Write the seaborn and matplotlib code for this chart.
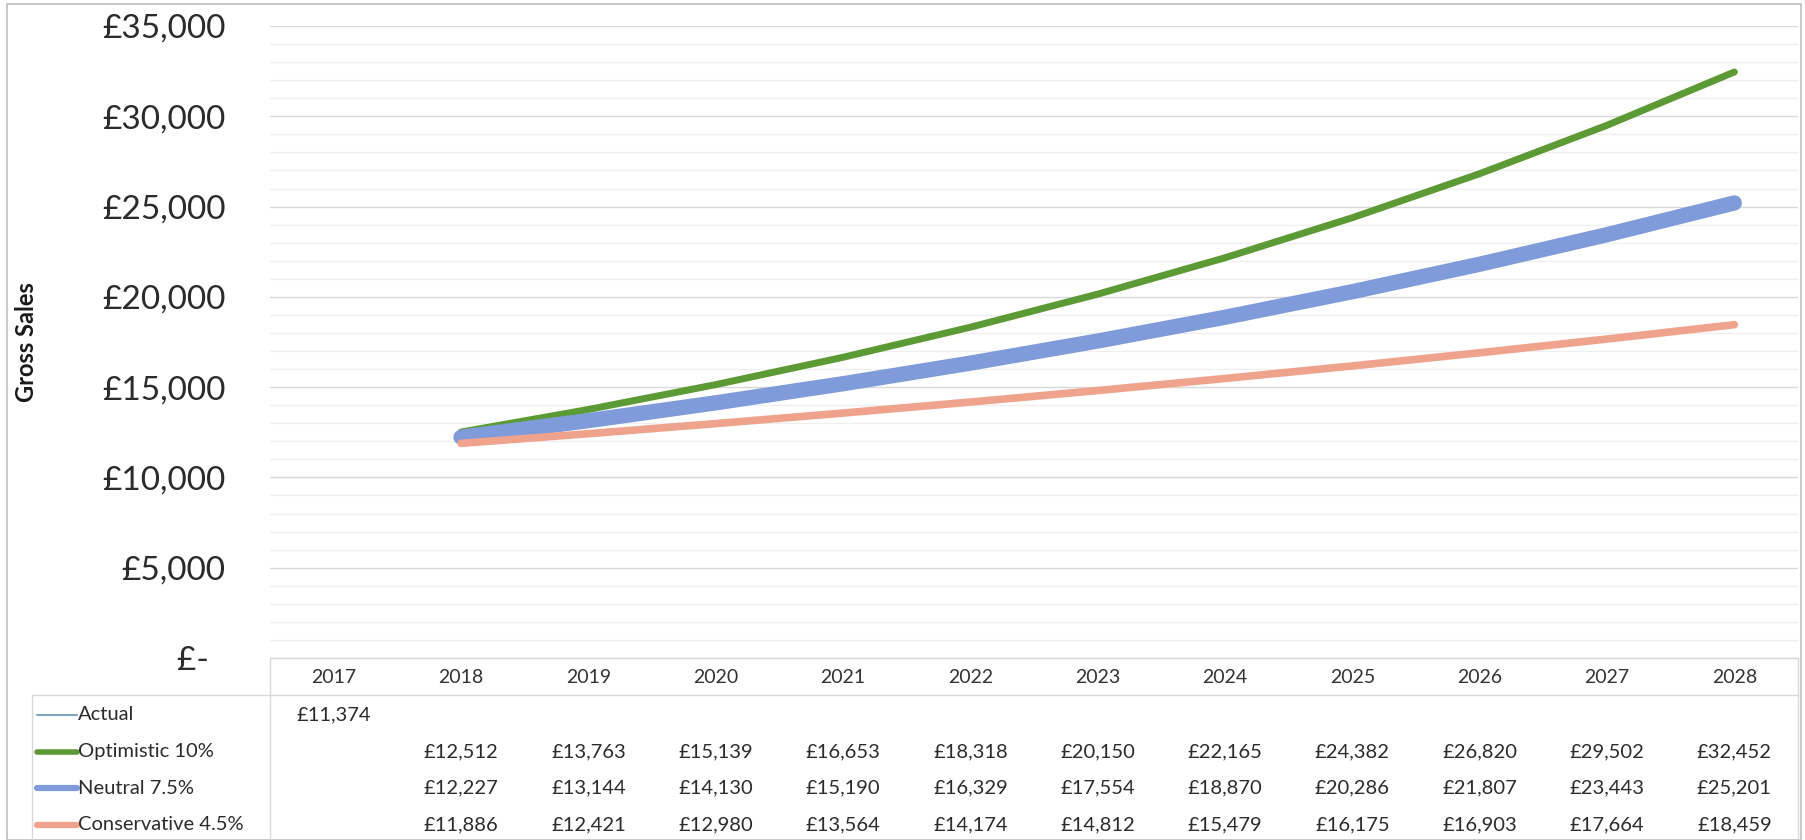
import numpy as np
import pandas as pd
import matplotlib
matplotlib.use("Agg")
import matplotlib.pyplot as plt
import seaborn as sns
from matplotlib.lines import Line2D
from matplotlib.patches import Rectangle

# ---------------- data ----------------
years = [2017, 2018, 2019, 2020, 2021, 2022, 2023, 2024, 2025, 2026, 2027, 2028]
actual = [11374, None, None, None, None, None, None, None, None, None, None, None]
optimistic = [None, 12512, 13763, 15139, 16653, 18318, 20150, 22165, 24382, 26820, 29502, 32452]
neutral = [None, 12227, 13144, 14130, 15190, 16329, 17554, 18870, 20286, 21807, 23443, 25201]
conservative = [None, 11886, 12421, 12980, 13564, 14174, 14812, 15479, 16175, 16903, 17664, 18459]
series_names = ["Actual", "Optimistic 10%", "Neutral 7.5%", "Conservative 4.5%"]
y_ticks = [0, 5000, 10000, 15000, 20000, 25000, 30000, 35000]
minor_ticks = list(range(0, 35001, 1000))
y_label = "Gross Sales"

series_values = [actual, optimistic, neutral, conservative]
colors = ["#7EA6C9", "#5B9A35", "#7F9BDA", "#F0A38C"]
widths = [1.5, 5.0, 11.0, 5.5]
key_widths = [1.5, 4.0, 4.5, 4.5]

# ---------------- style ----------------
sns.set_theme(style="white")
plt.rcParams['font.family'] = ['Lato', 'DejaVu Sans']

W, H = 1805, 840
fig = plt.figure(figsize=(W / 100, H / 100), dpi=100)
fig.patch.set_facecolor("white")

ax_l, ax_r, ax_t, ax_b = 270, 1798, 26, 658
ax = fig.add_axes([ax_l / W, 1 - ax_b / H, (ax_r - ax_l) / W, (ax_b - ax_t) / H])

rows = []
for name, vals in zip(series_names, series_values):
    for i, (yr, v) in enumerate(zip(years, vals)):
        if v is not None:
            rows.append({"idx": i, "year": yr, "series": name, "value": v})
df = pd.DataFrame(rows)

for name, col, lw in zip(series_names, colors, widths):
    sub = df[df["series"] == name]
    if len(sub) > 1:
        sns.lineplot(data=sub, x="idx", y="value", color=col, linewidth=lw,
                     ax=ax, solid_capstyle="round", solid_joinstyle="round",
                     legend=False, zorder=3)

ax.set_xlim(-0.5, len(years) - 0.5)
ax.set_ylim(0, 35000)
ax.set_yticks(y_ticks)
ax.set_yticks(minor_ticks, minor=True)
ax.set_yticklabels([("£-  " if v == 0 else f"£{v:,.0f}") for v in y_ticks],
                   fontsize=24, color="#2b2b2b")
ax.tick_params(axis="y", which="both", length=0, pad=32)
ax.set_xticks([])
ax.grid(which="minor", axis="y", color="#EFEFEF", linewidth=0.9, zorder=0)
ax.grid(which="major", axis="y", color="#D9D9D9", linewidth=1.0, zorder=0)
ax.set_xlabel("")
ax.set_ylabel("")
for s in ax.spines.values():
    s.set_visible(False)

fig.text(27 / W, 1 - 342 / H, y_label, rotation=90, fontsize=17,
         fontweight="bold", ha="center", va="center", color="#1a1a1a")

# ---------------- data table ----------------
tax = fig.add_axes([ax_l / W, 0, (ax_r - ax_l) / W, (H - ax_b) / H])
tax.set_xlim(ax.get_xlim())
tax.set_ylim(H, ax_b)
tax.axis("off")

header_y = 678
row_ys = [715, 752, 788, 825]
for i, yr in enumerate(years):
    tax.text(i, header_y, str(yr), ha="center", va="center", fontsize=14, color="#333333")
for ry, vals in zip(row_ys, series_values):
    for i, v in enumerate(vals):
        if v is not None:
            tax.text(i, ry, f"£{v:,.0f}", ha="center", va="center", fontsize=14.5, color="#2b2b2b")

def fline(x0, y0, x1, y1, color="#D9D9D9", lw=1.0):
    fig.add_artist(Line2D([x0 / W, x1 / W], [1 - y0 / H, 1 - y1 / H],
                          transform=fig.transFigure, color=color, linewidth=lw))

fline(ax_l, ax_b, ax_r, ax_b)
fline(32, 695, ax_r, 695)
fline(ax_l, ax_b, ax_l, H)
fline(ax_r, ax_b, ax_r, H)
fline(32, 695, 32, H)

for ry, name, col, kw in zip(row_ys, series_names, colors, key_widths):
    fig.add_artist(Line2D([37 / W, 77 / W], [1 - ry / H, 1 - ry / H],
                          transform=fig.transFigure, color=col, linewidth=kw,
                          solid_capstyle="round"))
    fig.text(78 / W, 1 - ry / H, name, fontsize=14.5, ha="left", va="center", color="#2b2b2b")

# outer chart border
fig.add_artist(Rectangle((7 / W, 0), (1801 - 7) / W, 1 - 4 / H, transform=fig.transFigure,
                         fill=False, edgecolor="#BFBFBF", linewidth=1.2))

fig.savefig("out.png", dpi=100, facecolor="white")
